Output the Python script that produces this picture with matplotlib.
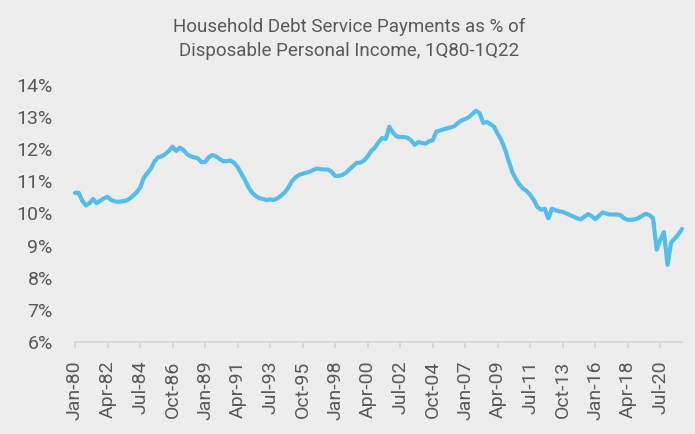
import matplotlib
matplotlib.use("Agg")
import matplotlib.pyplot as plt
from matplotlib.ticker import FixedLocator, FuncFormatter

# Household debt service ratio, % of disposable personal income, quarterly 1Q80-1Q22
dsr = [
    # 1980-1986
    10.64, 10.65, 10.40, 10.25, 10.32, 10.45, 10.32, 10.40,
    10.47, 10.52, 10.42, 10.38, 10.36, 10.38, 10.40, 10.45,
    10.55, 10.65, 10.80, 11.10, 11.25, 11.40, 11.62, 11.75,
    11.78, 11.85, 11.95, 12.08,
    # 1987-1993
    11.95, 12.05, 11.98, 11.85, 11.78, 11.75, 11.72, 11.60,
    11.60, 11.75, 11.82, 11.78, 11.70, 11.63, 11.63, 11.65,
    11.58, 11.45, 11.25, 11.05, 10.82, 10.65, 10.55, 10.48,
    10.45, 10.42, 10.44, 10.42,
    # 1994-2000
    10.47, 10.55, 10.65, 10.80, 11.00, 11.12, 11.20, 11.24,
    11.27, 11.30, 11.36, 11.40, 11.38, 11.37, 11.37, 11.30,
    11.17, 11.17, 11.20, 11.27, 11.38, 11.48, 11.58, 11.58,
    11.65, 11.78, 11.95, 12.05,
    # 2001-2007
    12.22, 12.35, 12.32, 12.70, 12.52, 12.40, 12.38, 12.38,
    12.36, 12.28, 12.14, 12.22, 12.20, 12.17, 12.25, 12.28,
    12.55, 12.58, 12.62, 12.65, 12.68, 12.72, 12.82, 12.90,
    12.94, 13.00, 13.10, 13.20,
    # 2008-2014
    13.12, 12.82, 12.85, 12.78, 12.70, 12.48, 12.28, 12.00,
    11.65, 11.30, 11.08, 10.90, 10.78, 10.70, 10.58, 10.42,
    10.20, 10.12, 10.15, 9.85, 10.15, 10.10, 10.07, 10.05,
    10.00, 9.95, 9.90, 9.85,
    # 2015-2021
    9.82, 9.90, 9.98, 9.92, 9.82, 9.93, 10.03, 10.00,
    9.97, 9.97, 9.97, 9.95, 9.85, 9.80, 9.80, 9.82,
    9.86, 9.93, 9.99, 9.95, 9.85, 8.87, 9.18, 9.42,
    8.40, 9.10, 9.22, 9.35,
    # 2022
    9.52,
]

tick_step = 9
tick_labels = [
    "Jan-80", "Apr-82", "Jul-84", "Oct-86", "Jan-89", "Apr-91", "Jul-93",
    "Oct-95", "Jan-98", "Apr-00", "Jul-02", "Oct-04", "Jan-07", "Apr-09",
    "Jul-11", "Oct-13", "Jan-16", "Apr-18", "Jul-20",
]
y_ticks = [6, 7, 8, 9, 10, 11, 12, 13, 14]

title = "Household Debt Service Payments as % of\nDisposable Personal Income, 1Q80-1Q22"

bg = "#EDEDED"
text_color = "#595959"
line_color = "#55BDEA"

plt.rcParams["font.family"] = ["Roboto", "DejaVu Sans"]

fig = plt.figure(figsize=(6.95, 4.34), dpi=100, facecolor=bg)
ax = fig.add_axes([75 / 695, 1 - 342 / 434, (682 - 75) / 695, (342 - 85) / 434])
ax.set_facecolor(bg)

quarters = list(range(len(dsr)))
ax.plot(quarters, dsr, color=line_color, lw=3.0, solid_joinstyle="round",
        solid_capstyle="round", clip_on=False)

ax.set_xlim(0, len(dsr) - 1)
ax.set_ylim(y_ticks[0], y_ticks[-1])

ax.xaxis.set_major_locator(FixedLocator([i * tick_step for i in range(len(tick_labels))]))
ax.set_xticklabels(tick_labels, rotation=90, ha="center", va="top")
ax.yaxis.set_major_locator(FixedLocator(y_ticks))
ax.yaxis.set_major_formatter(FuncFormatter(lambda v, _: f"{v:.0f}%"))

for side in ("top", "right", "left"):
    ax.spines[side].set_visible(False)
ax.spines["bottom"].set_color("#D4D4D4")
ax.spines["bottom"].set_linewidth(1.2)

ax.tick_params(axis="x", colors="#D4D4D4", length=4.5, width=1.2, pad=9,
               labelcolor=text_color, labelsize=14)
ax.tick_params(axis="y", length=0, pad=16, labelcolor=text_color, labelsize=14)

fig.text(0.503, 0.958, title, ha="center", va="top", fontsize=13.5,
         color=text_color, linespacing=1.38)

fig.savefig("out.png", dpi=100, facecolor=bg)
